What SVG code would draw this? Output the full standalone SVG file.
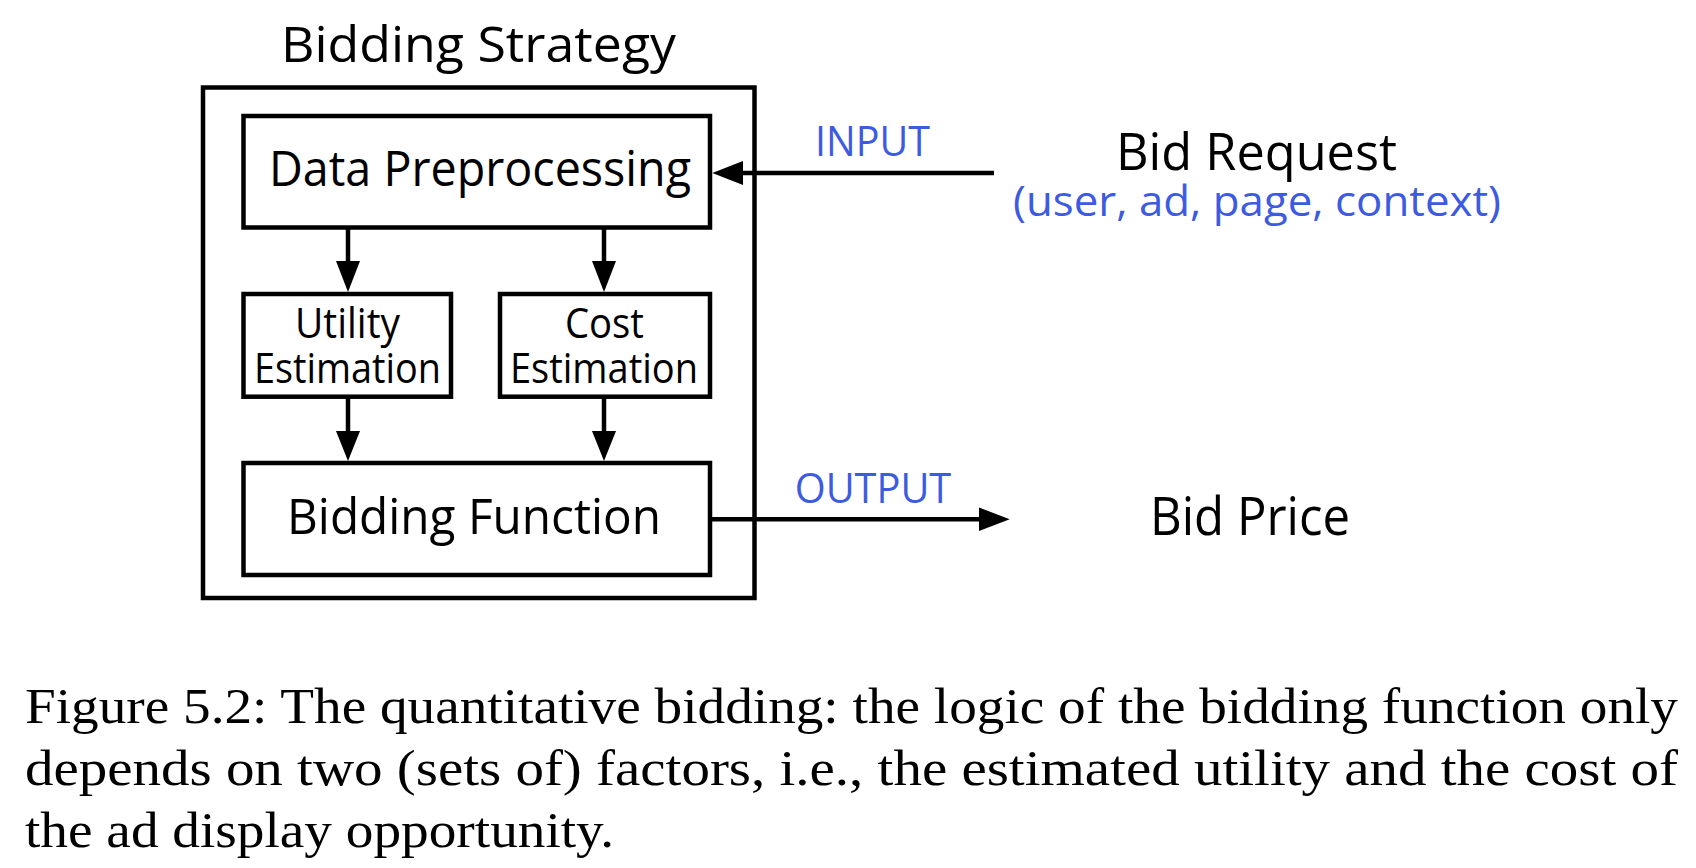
<svg xmlns="http://www.w3.org/2000/svg" width="1696" height="868" viewBox="0 0 1696 868">
<style>
.box{fill:none;stroke:#000;stroke-width:4.5}
.ln{fill:none;stroke:#000;stroke-width:4.5}
.hd{fill:#000;stroke:none}
.t{font-family:"Open Sans","Noto Sans","Liberation Sans",sans-serif;fill:#000;text-anchor:middle}
.b{fill:#3d5be0}
.cap{font-family:"Liberation Serif","DejaVu Serif",serif;font-size:50px;fill:#000}
</style>
<rect width="1696" height="868" fill="#fff"/>
<g id="strategy">
<rect class="box" x="203" y="87.5" width="551.5" height="510.5"/>
<text class="t" x="478.5" y="62" font-size="50" textLength="395" lengthAdjust="spacingAndGlyphs">Bidding Strategy</text>
</g>
<g id="data-preprocessing">
<rect class="box" x="243.5" y="116" width="466.5" height="111.5"/>
<text class="t" x="480" y="186" font-size="49" textLength="422" lengthAdjust="spacingAndGlyphs">Data Preprocessing</text>
</g>
<g id="utility-estimation">
<rect class="box" x="243.5" y="294" width="207.5" height="102.7"/>
<text class="t" x="347.5" y="338" font-size="42" textLength="105" lengthAdjust="spacingAndGlyphs">Utility</text>
<text class="t" x="347.5" y="383" font-size="42" textLength="187" lengthAdjust="spacingAndGlyphs">Estimation</text>
</g>
<g id="cost-estimation">
<rect class="box" x="500" y="294" width="210" height="102.7"/>
<text class="t" x="604.5" y="338" font-size="42" textLength="79" lengthAdjust="spacingAndGlyphs">Cost</text>
<text class="t" x="604" y="383" font-size="42" textLength="188" lengthAdjust="spacingAndGlyphs">Estimation</text>
</g>
<g id="bidding-function">
<rect class="box" x="243.5" y="463" width="466.5" height="112"/>
<text class="t" x="474" y="534" font-size="49" textLength="374" lengthAdjust="spacingAndGlyphs">Bidding Function</text>
</g>
<g id="bid-request">
<text class="t" x="1256.5" y="170" font-size="52" textLength="281" lengthAdjust="spacingAndGlyphs">Bid Request</text>
<text class="t b" x="1257" y="216" font-size="42" textLength="488" lengthAdjust="spacingAndGlyphs">(user, ad, page, context)</text>
</g>
<g id="bid-price">
<text class="t" x="1250" y="535" font-size="53" textLength="200" lengthAdjust="spacingAndGlyphs">Bid Price</text>
</g>
<g id="connectors">
<line class="ln" x1="348" y1="227.5" x2="348" y2="270"/>
<polygon class="hd" points="336,261 360,261 348,292"/>
<line class="ln" x1="604" y1="227.5" x2="604" y2="270"/>
<polygon class="hd" points="592,261 616,261 604,292"/>
<line class="ln" x1="348" y1="396.7" x2="348" y2="440"/>
<polygon class="hd" points="336,431 360,431 348,461"/>
<line class="ln" x1="604" y1="396.7" x2="604" y2="440"/>
<polygon class="hd" points="592,431 616,431 604,461"/>
<line class="ln" x1="994" y1="173" x2="735" y2="173"/>
<polygon class="hd" points="743,161 743,185 712.3,173"/>
<text class="t b" x="872.5" y="156" font-size="42" textLength="115" lengthAdjust="spacingAndGlyphs">INPUT</text>
<line class="ln" x1="710" y1="519.3" x2="988" y2="519.3"/>
<polygon class="hd" points="979,507.5 979,531 1009.7,519.3"/>
<text class="t b" x="873" y="503" font-size="42" textLength="156.5" lengthAdjust="spacingAndGlyphs">OUTPUT</text>
</g>
<g id="caption">
<text class="cap" x="25" y="723" textLength="1653" lengthAdjust="spacingAndGlyphs">Figure 5.2: The quantitative bidding: the logic of the bidding function only</text>
<text class="cap" x="25" y="785" textLength="1653" lengthAdjust="spacingAndGlyphs">depends on two (sets of) factors, i.e., the estimated utility and the cost of</text>
<text class="cap" x="25" y="847" textLength="589" lengthAdjust="spacingAndGlyphs">the ad display opportunity.</text>
</g>
</svg>
